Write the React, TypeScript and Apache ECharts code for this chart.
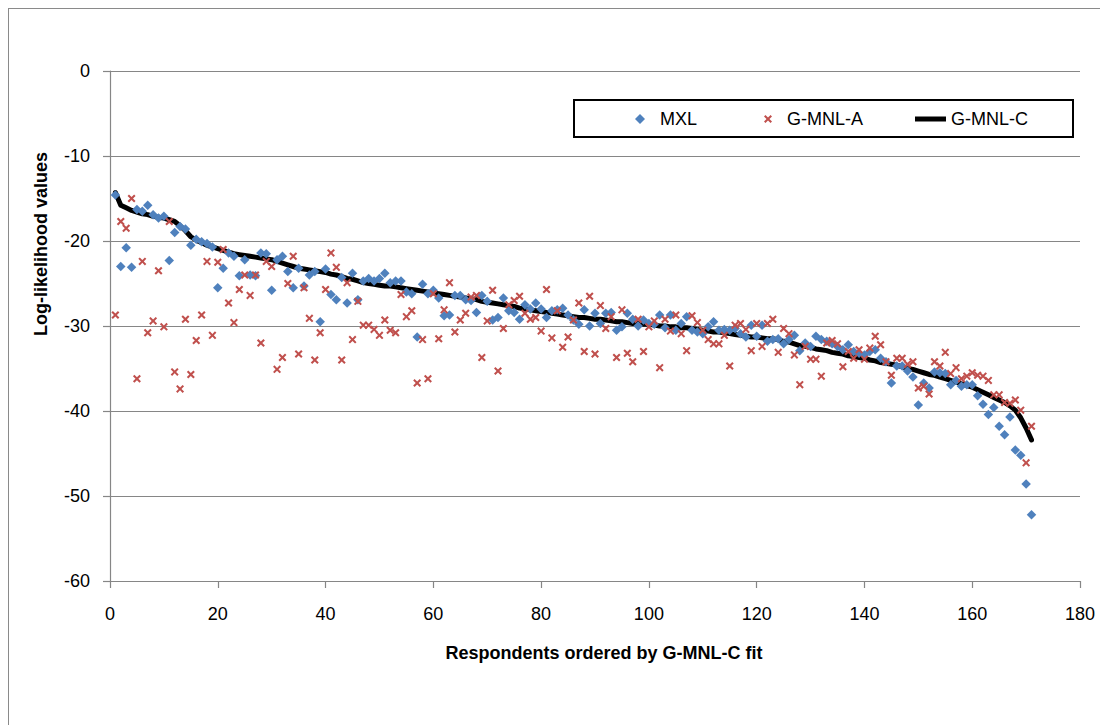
import React, { useEffect, useRef } from "react";
import * as echarts from "echarts";

// Log-likelihood values per respondent (ordered by G-MNL-C fit, rank 1..171)
const mxl: number[] = [
  -14.6, -23.0, -20.8, -23.1, -16.3, -16.5, -15.8, -16.9, -17.3, -17.1,
  -22.3, -19.0, -18.3, -18.6, -20.5, -19.8, -20.1, -20.3, -20.7, -25.5,
  -23.2, -21.4, -21.8, -24.1, -22.2, -24.0, -24.1, -21.4, -21.5, -25.8,
  -22.2, -21.8, -23.6, -25.5, -23.2, -25.3, -24.0, -23.6, -29.5, -23.3,
  -26.3, -26.9, -24.3, -27.3, -23.8, -26.9, -24.7, -24.4, -24.7, -24.4,
  -23.8, -24.9, -24.7, -24.7, -26.0, -26.2, -31.3, -25.1, -26.2, -25.8,
  -26.7, -28.8, -28.7, -26.4, -26.4, -26.9, -27.0, -28.4, -26.4, -27.1,
  -29.3, -29.0, -26.7, -28.2, -28.4, -29.2, -27.5, -28.0, -27.3, -28.0,
  -29.0, -28.2, -28.1, -27.9, -28.7, -29.3, -29.8, -28.1, -30.0, -28.5,
  -29.7, -28.5, -28.4, -30.5, -30.1, -28.5, -29.2, -30.0, -29.3, -29.7,
  -29.8, -28.7, -30.2, -28.7, -30.5, -29.7, -28.9, -30.5, -30.7, -30.9,
  -30.1, -29.5, -30.5, -30.4, -30.5, -30.3, -30.9, -31.3, -29.9, -31.2,
  -29.9, -31.8, -31.6, -31.5, -32.1, -31.6, -31.1, -32.9, -32.0, -32.4,
  -31.2, -31.6, -31.8, -32.1, -32.4, -32.8, -32.2, -33.0, -33.2, -33.4,
  -33.0, -32.8, -33.8, -34.2, -36.7, -34.7, -34.7, -35.3, -36.0, -39.3,
  -36.7, -37.3, -35.4, -35.5, -35.6, -36.9, -36.4, -37.1, -36.9, -36.9,
  -38.2, -39.2, -40.4, -39.6, -41.8, -42.8, -40.7, -44.6, -45.2, -48.6,
  -52.2,
];

const gmnlA: number[] = [
  -28.7, -17.7, -18.5, -15.0, -36.2, -22.4, -30.8, -29.4, -23.5, -30.1,
  -17.7, -35.4, -37.4, -29.2, -35.7, -31.7, -28.7, -22.4, -31.1, -22.5,
  -21.0, -27.3, -29.6, -25.7, -24.0, -26.4, -24.0, -32.0, -22.4, -23.0,
  -35.1, -33.7, -25.0, -21.8, -33.3, -25.5, -29.1, -34.0, -30.8, -25.7,
  -21.4, -23.1, -34.0, -24.9, -31.6, -27.1, -29.9, -29.9, -30.4, -31.1,
  -29.3, -30.5, -30.8, -26.3, -28.9, -28.2, -36.7, -31.6, -36.2, -26.2,
  -31.5, -28.1, -24.9, -30.7, -29.3, -28.5, -26.6, -26.4, -33.7, -29.4,
  -25.8, -35.3, -30.3, -27.5, -27.0, -26.5, -28.5, -29.2, -29.0, -30.6,
  -25.7, -31.4, -28.2, -32.5, -31.3, -29.3, -27.3, -33.0, -26.5, -33.3,
  -27.6, -30.3, -28.9, -33.7, -28.1, -33.2, -34.2, -29.2, -33.0, -30.1,
  -29.4, -34.9, -29.2, -30.6, -28.7, -30.9, -32.9, -28.8, -29.6, -30.5,
  -31.6, -32.1, -32.1, -31.1, -34.7, -29.9, -29.7, -30.4, -32.9, -29.7,
  -32.4, -29.7, -29.2, -33.1, -30.3, -30.9, -33.4, -36.9, -32.4, -33.9,
  -33.9, -35.9, -32.0, -31.7, -32.1, -34.8, -33.0, -33.8, -32.8, -33.9,
  -32.6, -31.2, -32.2, -34.2, -35.8, -33.8, -33.8, -34.5, -34.2, -37.3,
  -37.1, -38.0, -34.2, -34.7, -33.1, -35.6, -34.9, -36.2, -35.9, -35.5,
  -35.8, -35.9, -36.4, -38.1, -38.1, -39.0, -39.1, -38.7, -39.9, -46.1,
  -41.8,
];

const gmnlC: number[] = [
  -14.3, -15.8, -16.1, -16.4, -16.6, -16.8, -16.9, -17.1, -17.2, -17.3,
  -17.5, -17.7, -18.2, -18.8, -19.5, -19.9, -20.2, -20.5, -20.7, -20.9,
  -21.1, -21.3, -21.5, -21.6, -21.7, -21.8, -21.9, -22.0, -22.1, -22.2,
  -22.4, -22.6, -22.8, -23.0, -23.2, -23.3, -23.4, -23.5, -23.6, -23.7,
  -23.9, -24.0, -24.2, -24.4, -24.5, -24.7, -24.9, -25.0, -25.1, -25.2,
  -25.3, -25.3, -25.4, -25.5, -25.6, -25.7, -25.8, -25.9, -26.0, -26.1,
  -26.2, -26.3, -26.4, -26.5, -26.6, -26.7, -26.8, -26.9, -27.1, -27.2,
  -27.3, -27.4, -27.5, -27.6, -27.7, -27.9, -28.0, -28.1, -28.2, -28.3,
  -28.4, -28.5, -28.6, -28.7, -28.8, -28.9, -29.0, -29.0, -29.1, -29.2,
  -29.2, -29.3, -29.4, -29.5, -29.5, -29.6, -29.7, -29.7, -29.8, -29.8,
  -29.9, -30.0, -30.0, -30.1, -30.1, -30.2, -30.2, -30.3, -30.4, -30.5,
  -30.6, -30.7, -30.7, -30.8, -30.9, -31.0, -31.1, -31.2, -31.3, -31.3,
  -31.4, -31.5, -31.5, -31.6, -31.8, -31.9, -32.1, -32.3, -32.4, -32.5,
  -32.7, -32.8, -32.9, -33.1, -33.2, -33.3, -33.5, -33.6, -33.7, -33.8,
  -34.0, -34.1, -34.3, -34.4, -34.5, -34.6, -34.8, -35.0, -35.1, -35.3,
  -35.5, -35.7, -35.8, -36.0, -36.2, -36.4, -36.6, -36.8, -37.0, -37.2,
  -37.5, -37.8, -38.1, -38.4, -38.7, -39.0, -39.4, -39.9, -40.8, -42.0,
  -43.4,
];

const seriesNames = ["MXL", "G-MNL-A", "G-MNL-C"];
const xTitle = "Respondents ordered by G-MNL-C fit";
const yTitle = "Log-likelihood values";

const FONT = "'Liberation Sans', Arial, sans-serif";
const GRID_COLOR = "#868686";
const X_SYMBOL =
  "path://M1.8,0L5,3.2L8.2,0L10,1.8L6.8,5L10,8.2L8.2,10L5,6.8L1.8,10L0,8.2L3.2,5L0,1.8Z";

const toPoints = (arr: number[]) => arr.map((v, i) => [i + 1, v]);

export default function App() {
  const ref = useRef<HTMLDivElement>(null);

  useEffect(() => {
    if (!ref.current) return;
    const chart = echarts.init(ref.current, null, { renderer: "svg" });
    chart.setOption({
      animation: false,
      backgroundColor: "#ffffff",
      textStyle: { fontFamily: FONT },
      grid: { left: 101, top: 62, width: 970, height: 510, containLabel: false },
      xAxis: {
        type: "value",
        min: 0,
        max: 180,
        interval: 20,
        axisLine: { show: true, onZero: false, lineStyle: { color: GRID_COLOR, width: 1.2 } },
        axisTick: { show: true, inside: false, length: 7, lineStyle: { color: GRID_COLOR, width: 1.2 } },
        axisLabel: { color: "#000", fontSize: 18, margin: 24, fontFamily: FONT },
        splitLine: { show: false },
      },
      yAxis: {
        type: "value",
        min: -60,
        max: 0,
        interval: 10,
        axisLine: { show: true, lineStyle: { color: GRID_COLOR, width: 1.2 } },
        axisTick: { show: true, inside: false, length: 7, lineStyle: { color: GRID_COLOR, width: 1.2 } },
        axisLabel: { color: "#000", fontSize: 18, margin: 20, fontFamily: FONT },
        splitLine: { show: true, lineStyle: { color: GRID_COLOR, width: 1.2 } },
      },
      legend: [
        {
          data: [seriesNames[0]],
          left: 626,
          top: 101,
          padding: 0,
          icon: "diamond",
          itemWidth: 10,
          itemHeight: 10,
          textStyle: { fontSize: 18, color: "#000", fontFamily: FONT, padding: [0, 0, 0, 10] },
        },
        {
          data: [seriesNames[1]],
          left: 755,
          top: 101,
          padding: 0,
          icon: X_SYMBOL,
          itemWidth: 8,
          itemHeight: 8,
          textStyle: { fontSize: 18, color: "#000", fontFamily: FONT, padding: [0, 0, 0, 10] },
        },
        {
          data: [seriesNames[2]],
          left: 906,
          top: 101,
          padding: 0,
          icon: "rect",
          itemWidth: 31,
          itemHeight: 5,
          itemStyle: { color: "#000" },
          textStyle: { fontSize: 18, color: "#000", fontFamily: FONT, padding: [0, 0, 0, 0] },
        },
      ],
      graphic: [
        {
          type: "rect",
          z: 3,
          shape: { x: 565, y: 91, width: 499, height: 37 },
          style: { fill: "#fff", stroke: "#000", lineWidth: 2 },
        },
        {
          type: "text",
          x: 595,
          y: 644,
          style: {
            text: xTitle,
            fontSize: 18,
            fontWeight: "bold",
            fontFamily: FONT,
            fill: "#000",
            textAlign: "center",
            textVerticalAlign: "middle",
          },
        },
        {
          type: "text",
          x: 32,
          y: 235,
          rotation: Math.PI / 2,
          style: {
            text: yTitle,
            fontSize: 18,
            fontWeight: "bold",
            fontFamily: FONT,
            fill: "#000",
            textAlign: "center",
            textVerticalAlign: "middle",
          },
        },
      ],
      series: [
        {
          name: seriesNames[2],
          type: "line",
          data: toPoints(gmnlC),
          symbol: "none",
          smooth: false,
          z: 1,
          lineStyle: { color: "#000", width: 5, cap: "round", join: "round" },
          itemStyle: { color: "#000" },
        },
        {
          name: seriesNames[0],
          type: "scatter",
          data: toPoints(mxl),
          symbol: "diamond",
          symbolSize: 9.5,
          z: 2,
          itemStyle: { color: "#4F81BD", opacity: 1 },
        },
        {
          name: seriesNames[1],
          type: "scatter",
          data: toPoints(gmnlA),
          symbol: X_SYMBOL,
          symbolSize: 8,
          z: 3,
          itemStyle: { color: "#C0504D", opacity: 1 },
        },
      ],
    });
    return () => chart.dispose();
  }, []);

  return (
    <div
      ref={ref}
      style={{
        width: 1099,
        height: 716,
        borderLeft: "1px solid #8a8a8a",
        borderTop: "1px solid #8a8a8a",
        background: "#fff",
      }}
    />
  );
}
